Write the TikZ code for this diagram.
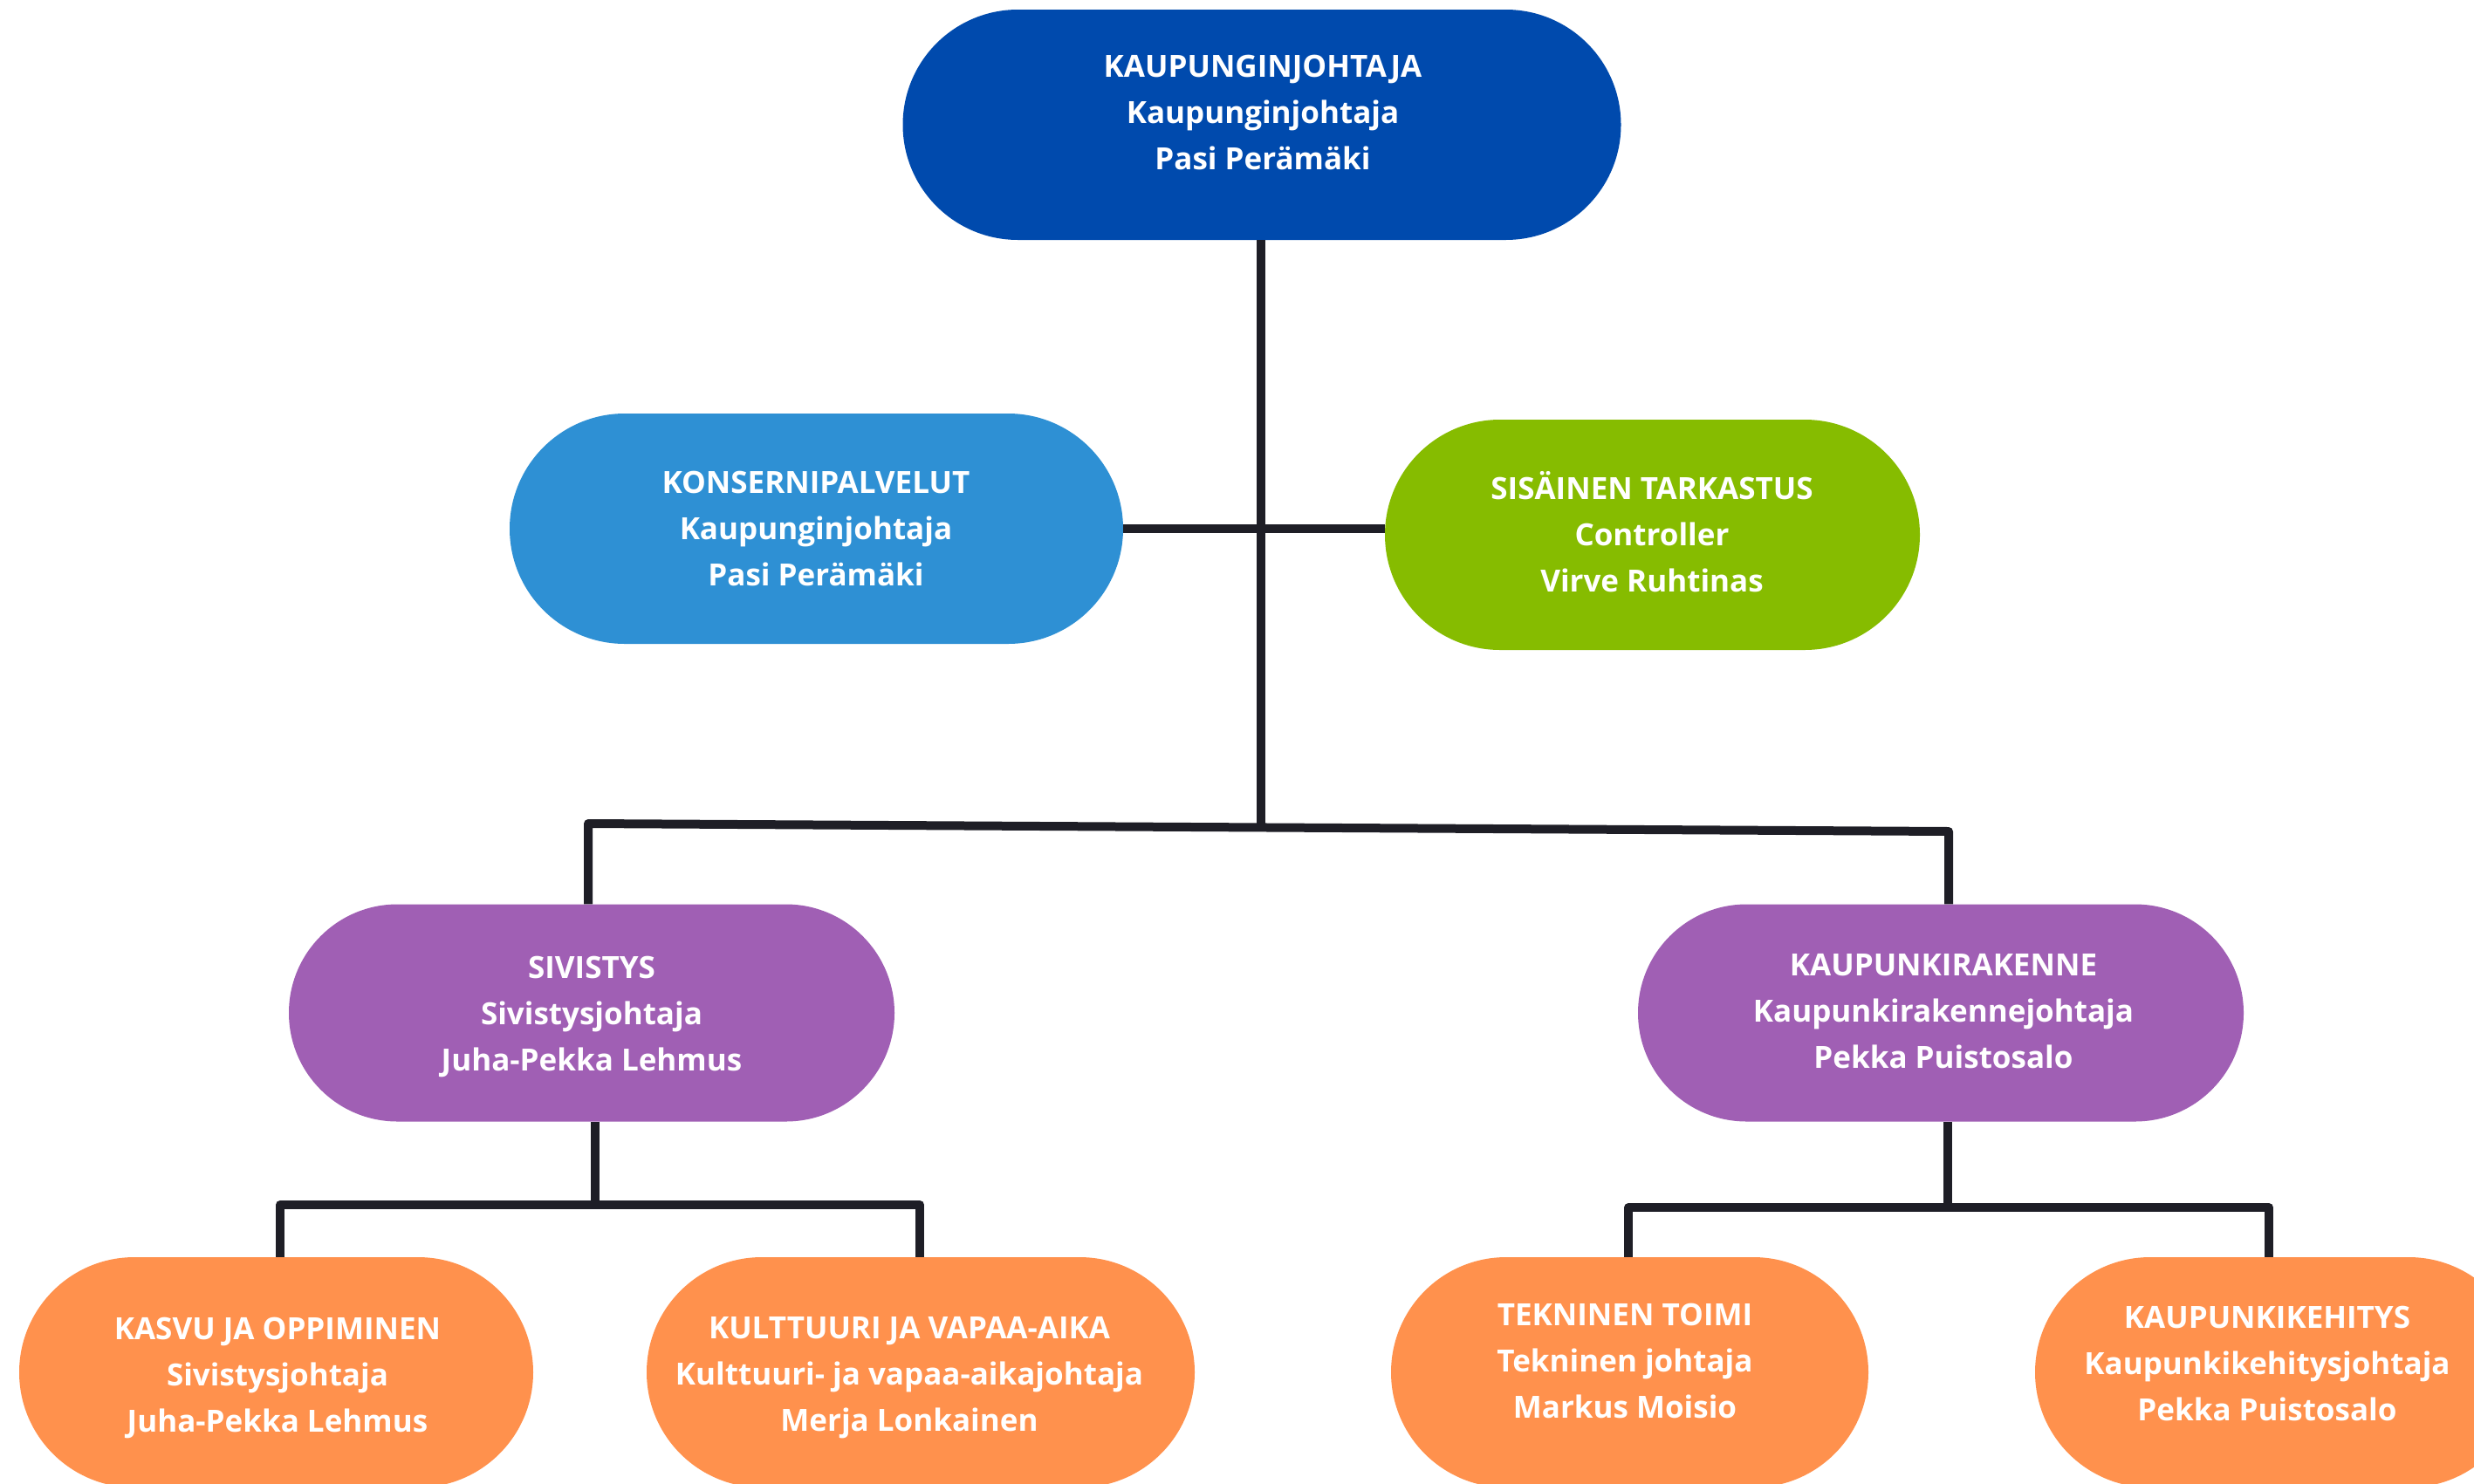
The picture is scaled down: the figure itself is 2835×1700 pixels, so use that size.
\documentclass[tikz,border=0pt]{standalone}
\usepackage{fontspec}
\setmainfont{Open Sans}
\definecolor{cBlue}{HTML}{004AAD}
\definecolor{cLight}{HTML}{2E90D4}
\definecolor{cGreen}{HTML}{86BC00}
\definecolor{cPurple}{HTML}{A05FB4}
\definecolor{cOrange}{HTML}{FF914D}
\definecolor{cLine}{HTML}{1E1E26}
\tikzset{
  pill/.style n args={3}{draw=none, fill=#1, rectangle, minimum width=#2, minimum height=#3, rounded corners=#3/2, inner sep=0pt},
  txt/.style={text=white, align=center, font=\fontsize{35}{53}\selectfont\bfseries, inner sep=0pt},
  conn/.style={draw=cLine, line width=10pt, line join=round, line cap=butt}
}
\begin{document}
\begin{tikzpicture}[x=1pt,y=-1pt]
\useasboundingbox[fill=white] (0,0) rectangle (2835,1700);
% shapes
\node[pill={cBlue}{823pt}{264pt}] (top) at (1446,143) {};
\node[pill={cLight}{703pt}{264pt}] (kons) at (935.5,606) {};
\node[pill={cGreen}{613pt}{264pt}] (sis) at (1893.5,613) {};
\node[pill={cPurple}{694pt}{249pt}] (siv) at (678,1161) {};
\node[pill={cPurple}{694pt}{249pt}] (kr) at (2224,1161) {};
\node[pill={cOrange}{589pt}{264pt}] (kasvu) at (316.5,1573) {};
\node[pill={cOrange}{628pt}{264pt}] (kult) at (1055,1573) {};
\node[pill={cOrange}{547pt}{264pt}] (tek) at (1867.5,1573) {};
\node[pill={cOrange}{560pt}{264pt}] (kk) at (2612,1573) {};
% texts
\node[txt] (topT) at (1447,129) {KAUPUNGINJOHTAJA\\Kaupunginjohtaja\\Pasi Perämäki};
\node[txt] (konsT) at (935,606) {KONSERNIPALVELUT\\Kaupunginjohtaja\\Pasi Perämäki};
\node[txt] (sisT) at (1893,610) {SISÄINEN TARKASTUS\\Controller\\Virve Ruhtinas};
\node[txt] (sivT) at (678,1165) {SIVISTYS\\Sivistysjohtaja\\Juha-Pekka Lehmus};
\node[txt] (krT) at (2227,1159) {KAUPUNKIRAKENNE\\Kaupunkirakennejohtaja\\Pekka Puistosalo};
\node[txt] (kasvuT) at (318,1579) {KASVU JA OPPIMINEN\\Sivistysjohtaja\\Juha-Pekka Lehmus};
\node[txt] (kultT) at (1042,1579) {KULTTUURI JA VAPAA-AIKA\\Kulttuuri- ja vapaa-aikajohtaja\\Merja Lonkainen};
\node[txt] (tekT) at (1862,1560) {TEKNINEN TOIMI\\Tekninen johtaja\\Markus Moisio};
\node[txt] (kkT) at (2598,1563) {KAUPUNKIKEHITYS\\Kaupunkikehitysjohtaja\\Pekka Puistosalo};
% connector coordinates
\coordinate (bL) at (674,944);
\coordinate (bM) at (1445,948.5);
\coordinate (bR) at (2233,953);
\coordinate (sL) at (321,1381);
\coordinate (sM) at (682,1381);
\coordinate (sR) at (1054,1381);
\coordinate (rL) at (1866,1384);
\coordinate (rM) at (2232,1384);
\coordinate (rR) at (2600,1384);
% connectors
\draw[conn] (top.south -| bM) -- (bM);
\draw[conn] (kons.east) -- (kons.east -| sis.west);
\draw[conn] (bL |- siv.north) -- (bL) -- (bR) -- (bR |- kr.north);
\draw[conn] (siv.south -| sM) -- (sM);
\draw[conn] (sL |- kasvu.north) -- (sL) -- (sR) -- (sR |- kult.north);
\draw[conn] (kr.south -| rM) -- (rM);
\draw[conn] (rL |- tek.north) -- (rL) -- (rR) -- (rR |- kk.north);
\end{tikzpicture}
\end{document}
